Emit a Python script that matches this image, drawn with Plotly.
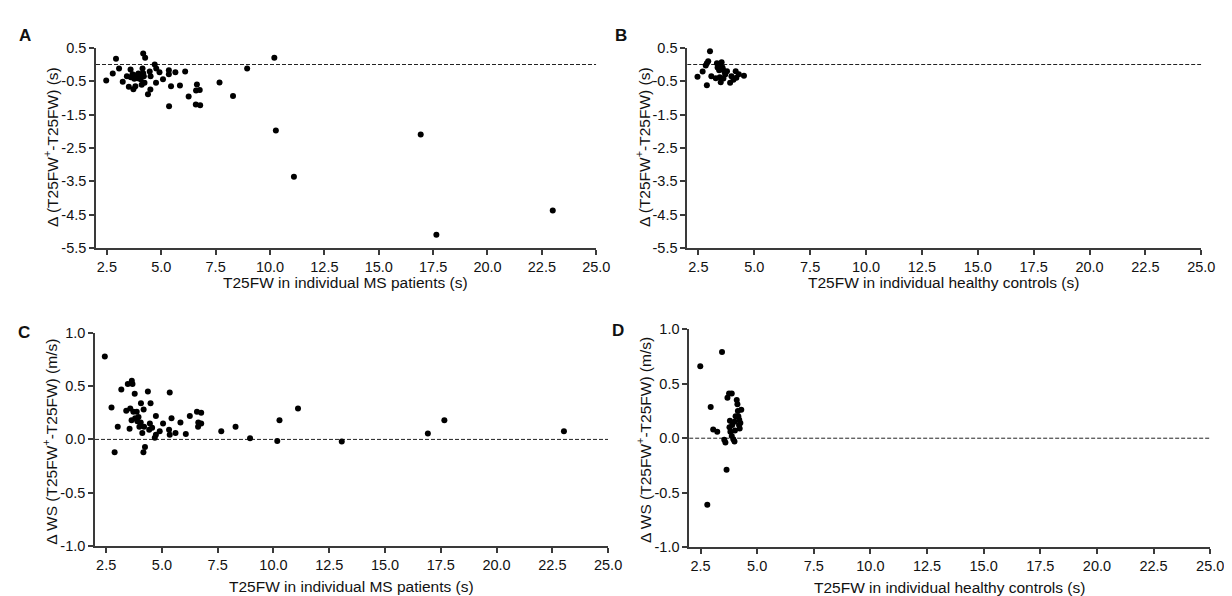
import plotly.graph_objects as go

W, H = 1232, 596

# Panel A: MS patients, T25FW vs delta T25FW (s)
ms_t25fw_a = [2.47, 2.77, 2.92, 3.06, 3.23, 3.42, 3.51, 3.59, 3.60, 3.68, 3.72, 3.76, 3.81, 3.79,
              3.86, 3.91, 3.95, 4.00, 4.02, 4.05, 4.09, 4.14, 4.17, 4.17, 4.20, 4.26, 4.10, 4.23,
              4.39, 4.50, 4.47, 4.51, 4.70, 4.77, 4.92, 4.76, 5.08, 5.35, 5.35, 5.45, 5.36, 5.65,
              5.86, 6.10, 6.26, 6.64, 6.60, 6.77, 6.59, 6.79, 7.68, 8.30, 8.95, 10.20, 10.27,
              11.10, 16.93, 17.65, 23.00]
ms_delta_t = [-0.48, -0.27, 0.17, -0.12, -0.52, -0.35, -0.67, -0.15, -0.38, -0.29, -0.74, -0.43, -0.65, -0.35,
              -0.32, -0.41, -0.27, -0.34, -0.38, -0.44, -0.29, -0.12, -0.26, 0.33, -0.35, 0.20, -0.61, -0.55,
              -0.89, -0.75, -0.21, -0.35, 0.00, -0.12, -0.23, -0.55, -0.44, -0.17, -0.29, -0.65, -1.25, -0.23,
              -0.63, -0.21, -0.96, -0.60, -0.78, -0.76, -1.20, -1.22, -0.54, -0.94, -0.12, 0.20, -1.98,
              -3.36, -2.10, -5.10, -4.37]

# Panel B: healthy controls, T25FW vs delta T25FW (s)
hc_t25fw_b = [2.46, 2.69, 2.88, 2.83, 2.88, 2.94, 3.02, 3.08, 3.28, 3.33, 3.36, 3.40, 3.43, 3.46, 3.50,
              3.54, 3.58, 3.60, 3.62, 3.67, 3.70, 3.78, 3.92, 3.98, 4.07, 4.17, 4.20, 4.31, 4.54]
hc_delta_t = [-0.37, -0.21, -0.62, -0.03, 0.04, 0.10, 0.40, -0.35, -0.41, 0.04, -0.09, -0.02, -0.17, -0.38, -0.53,
              0.07, -0.09, -0.15, -0.42, -0.22, -0.30, -0.20, -0.55, -0.35, -0.46, -0.20, -0.40, -0.29, -0.34]

# Panel C: MS patients, T25FW vs delta walking speed (m/s)
ms_t25fw_c = [2.44, 2.74, 2.88, 3.02, 3.18, 3.40, 3.47, 3.55, 3.58, 3.64, 3.65, 3.68, 3.72, 3.78, 3.80,
              3.87, 3.90, 3.95, 3.99, 4.05, 4.06, 4.12, 4.17, 4.18, 4.20, 4.24, 4.37, 4.43, 4.46, 4.49,
              4.56, 4.68, 4.73, 4.73, 4.90, 5.05, 5.32, 5.35, 5.35, 5.43, 5.61, 5.83, 6.07, 6.25, 6.57,
              6.63, 6.62, 6.76, 6.76, 7.66, 8.30, 8.95, 10.17, 10.27, 11.10, 13.06, 16.92, 17.66, 23.02]
ms_delta_ws = [0.78, 0.30, -0.12, 0.12, 0.47, 0.27, 0.52, 0.10, 0.29, 0.18, 0.55, 0.52, 0.26, 0.43, 0.20,
               0.26, 0.17, 0.21, 0.12, 0.16, 0.34, 0.06, -0.12, 0.28, 0.12, -0.07, 0.45, 0.09, 0.15, 0.34,
               0.11, 0.015, 0.045, 0.22, 0.076, 0.15, 0.09, 0.045, 0.44, 0.20, 0.06, 0.16, 0.05, 0.22, 0.26,
               0.16, 0.12, 0.25, 0.15, 0.076, 0.12, 0.01, -0.015, 0.18, 0.29, -0.02, 0.055, 0.18, 0.076]

# Panel D: healthy controls, T25FW vs delta walking speed (m/s)
hc_t25fw_d = [2.49, 2.80, 2.95, 3.06, 3.24, 3.45, 3.55, 3.60, 3.65, 3.69, 3.76, 3.88, 3.80, 3.78, 3.82, 3.88,
              3.90, 3.95, 4.00, 4.00, 4.02, 4.05, 4.10, 4.13, 4.15, 4.17, 4.20, 4.21, 4.23, 4.26, 4.30]
hc_delta_ws = [0.66, -0.61, 0.285, 0.08, 0.06, 0.79, -0.015, -0.04, -0.29, 0.37, 0.41, 0.41, 0.16, 0.10, 0.06, 0.02,
               0.12, -0.01, -0.03, 0.15, 0.07, 0.20, 0.35, 0.31, 0.25, 0.20, 0.12, 0.17, 0.09, 0.14, 0.26]

x_ticks = [2.5 + 2.5 * i for i in range(10)]
t_ticks = [0.5, -0.5, -1.5, -2.5, -3.5, -4.5, -5.5]
ws_ticks = [1.0, 0.5, 0.0, -0.5, -1.0]

FONT = "Liberation Sans, Arial, sans-serif"
AX = "#3a3a3a"


def px_x(p):
    return p / W


def px_y(p):
    return 1 - p / H


def axis(domain, rng, ticks, anchor):
    return dict(domain=domain, range=rng, tickvals=ticks, ticktext=["%.1f" % t for t in ticks],
                showline=True, linecolor=AX, linewidth=1.5, ticks="outside", ticklen=5,
                tickwidth=1.5, tickcolor=AX, showgrid=False, zeroline=False, anchor=anchor,
                tickfont=dict(family=FONT, size=14.5, color="#111"), fixedrange=True)


panels = [
    (ms_t25fw_a, ms_delta_t, "x", "y"),
    (hc_t25fw_b, hc_delta_t, "x2", "y2"),
    (ms_t25fw_c, ms_delta_ws, "x3", "y3"),
    (hc_t25fw_d, hc_delta_ws, "x4", "y4"),
]

fig = go.Figure()
for xs, ys, xa, ya in panels:
    fig.add_trace(go.Scatter(x=[2, 25], y=[0, 0], mode="lines", xaxis=xa, yaxis=ya,
                             line=dict(color="#222", width=1, dash="4px,2px"), hoverinfo="skip"))
    fig.add_trace(go.Scatter(x=xs, y=ys, mode="markers", xaxis=xa, yaxis=ya,
                             marker=dict(color="black", size=6)))

fig.update_layout(
    width=W, height=H, margin=dict(l=0, r=0, t=0, b=0),
    paper_bgcolor="white", plot_bgcolor="white", showlegend=False,
    xaxis=axis([px_x(89), px_x(595)], [2, 25], x_ticks, "y"),
    yaxis=axis([px_y(238.5), px_y(32.7)], [-5.5, 0.5], t_ticks, "x"),
    xaxis2=axis([px_x(687), px_x(1207)], [2, 25], x_ticks, "y2"),
    yaxis2=axis([px_y(238.5), px_y(32.7)], [-5.5, 0.5], t_ticks, "x2"),
    xaxis3=axis([px_x(88), px_x(607)], [2, 25], x_ticks, "y3"),
    yaxis3=axis([px_y(544.5), px_y(325.7)], [-1.0, 1.0], ws_ticks, "x3"),
    xaxis4=axis([px_x(689), px_x(1216)], [2, 25], x_ticks, "y4"),
    yaxis4=axis([px_y(546), px_y(321.7)], [-1.0, 1.0], ws_ticks, "x4"),
)

def note(text, x, y, size=15.5, bold=False, angle=0):
    if bold:
        text = "<b>%s</b>" % text
    fig.add_annotation(text=text, x=px_x(x), y=px_y(y), xref="paper", yref="paper",
                       showarrow=False, textangle=angle, xanchor="center", yanchor="middle",
                       font=dict(family=FONT, size=size, color="#111"))

for letter, x, y in [("A", 17, 20), ("B", 620, 20), ("C", 16, 325), ("D", 617, 323)]:
    note(letter, x, y, size=17, bold=True)

t_title = "\u0394 (T25FW<sup>+</sup>-T25FW) (s)"
ws_title = "\u0394 WS (T25FW<sup>+</sup>-T25FW) (m/s)"
note(t_title, 44, 135, angle=-90)
note(t_title, 643, 135, angle=-90)
note(ws_title, 43, 438, angle=-90)
note(ws_title, 644, 436, angle=-90)

note("T25FW in individual MS patients (s)", 341, 274)
note("T25FW in individual healthy controls (s)", 946, 274)
note("T25FW in individual MS patients (s)", 347, 586)
note("T25FW in individual healthy controls (s)", 952, 587)

fig.write_html("out.html")
